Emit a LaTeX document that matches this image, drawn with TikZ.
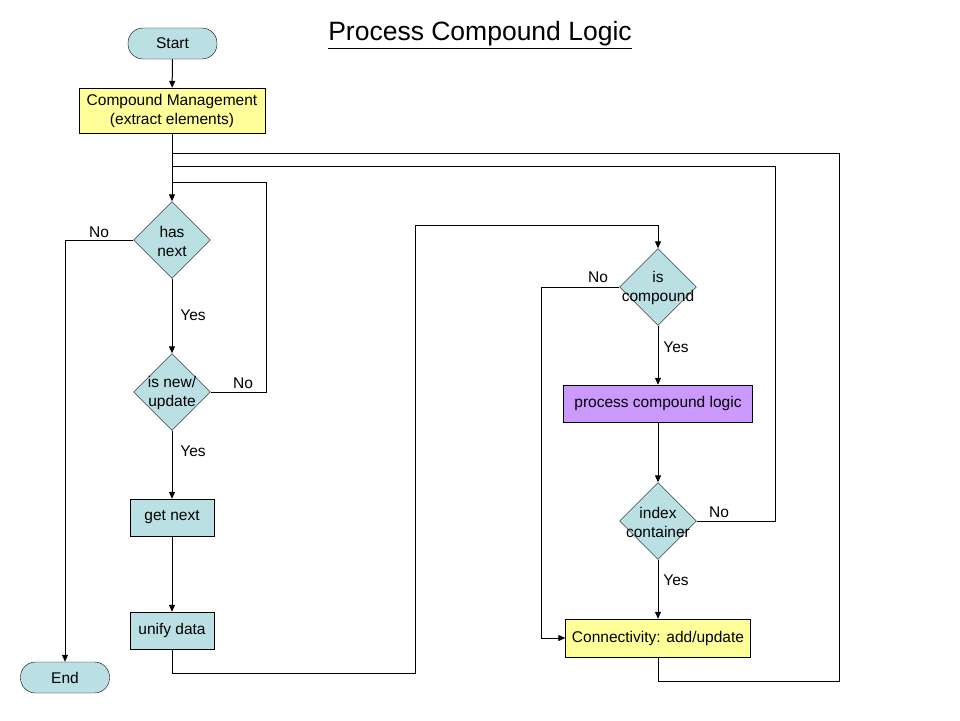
\documentclass[tikz,border=0pt]{standalone}
\usepackage{fontspec}
\setmainfont{Liberation Sans}
\usetikzlibrary{arrows.meta,shapes.geometric}
\definecolor{teal}{RGB}{187,224,227}
\definecolor{lyellow}{RGB}{255,255,153}
\definecolor{lpurple}{RGB}{204,153,255}
\tikzset{
  base/.style={font=\fontsize{15.5}{19}\selectfont, align=center},
  term/.style={base, draw, fill=teal, rounded corners=15pt, minimum width=89pt, minimum height=31pt, inner sep=0pt},
  procbox/.style={base, draw, fill=teal, minimum width=84pt, minimum height=37pt, inner sep=0pt},
  ybox/.style={base, draw, fill=lyellow, inner sep=0pt},
  pbox/.style={base, draw, fill=lpurple, inner sep=0pt},
  dia/.style={draw, fill=teal, diamond, minimum width=77pt, minimum height=77pt, inner sep=0pt},
  dtext/.style={base},
  lbl/.style={base},
  conn/.style={draw, line width=1pt},
  arr/.style={conn, -{Triangle[length=7pt,width=6pt]}},
}
\begin{document}
\begin{tikzpicture}[x=1pt,y=-1pt]
\useasboundingbox (0,0) rectangle (960,720);
\node[base, font=\fontsize{26.5}{30}\selectfont] (title) at (480,35) {\underline{Process Compound Logic}};

\node[term] (start) at (172.5,43.5) {Start};
\node[ybox, minimum width=186pt, minimum height=45pt] (cm) at (172,110.5) {Compound Management\\(extract elements)};
\node[dia] (hn) at (172,240) {};
\node[dtext] (hnt) at (172,241) {has\\next};
\node[dia] (nu) at (172,392) {};
\node[dtext] (nut) at (172,393) {is new/\\update};
\node[procbox] (gn) at (172,517.5) {get next};
\node[procbox] (ud) at (172,630.5) {unify data};
\node[term] (end) at (65,677.5) {End};

\node[dia] (ic) at (658,287) {};
\node[dtext] (ict) at (658,288) {is\\compound};
\node[pbox, minimum width=189pt, minimum height=37pt] (pcl) at (658,403.5) {process compound logic};
\node[dia] (ix) at (658,521) {};
\node[dtext] (ixt) at (658,522) {index\\container};
\node[ybox, minimum width=185pt, minimum height=38pt] (cn) at (658,638) {Connectivity: add/update};

\coordinate (j1) at (172,182);
\coordinate (r1) at (266,182);
\coordinate (j2) at (172,166);
\coordinate (r2) at (775,166);
\coordinate (j3) at (172,153);
\coordinate (r3) at (839,153);
\coordinate (r3b) at (839,681);
\coordinate (b1) at (415,673);
\coordinate (t1) at (415,225);
\coordinate (l1) at (541,287);

\draw[arr] (start) -- (cm);
\draw[arr] (cm) -- (hn);
\draw[arr] (hn.west) -| (end.north);
\draw[arr] (hn.south) -- (nu.north);
\draw[conn] (nu.east) -| (r1) -- (j1);
\draw[arr] (nu.south) -- (gn.north);
\draw[arr] (gn) -- (ud);
\draw[arr] (ud.south) |- (b1) -- (t1) -| (ic.north);
\draw[arr] (ic.west) -- (l1) |- (cn.west);
\draw[arr] (ic.south) -- (pcl.north);
\draw[arr] (pcl.south) -- (ix.north);
\draw[conn] (ix.east) -| (r2) -- (j2);
\draw[arr] (ix.south) -- (cn.north);
\draw[conn] (cn.south) |- (r3b) -- (r3) -- (j3);

\node[lbl] (l-hn-no) at (99,232) {No};
\node[lbl] (l-hn-yes) at (193,315) {Yes};
\node[lbl] (l-nu-no) at (243,383) {No};
\node[lbl] (l-nu-yes) at (193,451) {Yes};
\node[lbl] (l-ic-no) at (598,277) {No};
\node[lbl] (l-ic-yes) at (676,347) {Yes};
\node[lbl] (l-ix-no) at (719,512) {No};
\node[lbl] (l-ix-yes) at (676,580) {Yes};
\end{tikzpicture}
\end{document}
